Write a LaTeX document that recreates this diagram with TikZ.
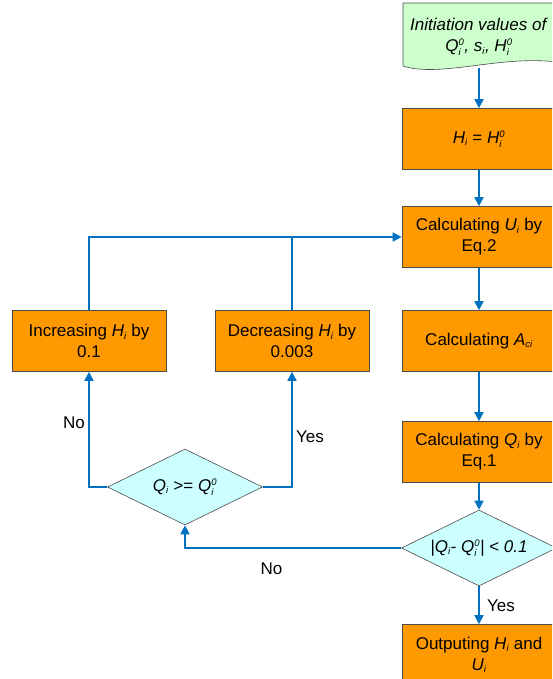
\documentclass[tikz,border=0pt]{standalone}
\usepackage{fontspec}
\setmainfont{Liberation Sans}
\usetikzlibrary{shapes.geometric,arrows.meta}

\definecolor{boxorange}{RGB}{255,153,0}
\definecolor{testcyan}{RGB}{204,255,255}
\definecolor{docgreen}{RGB}{204,255,204}
\definecolor{flowblue}{RGB}{0,112,192}

\newcommand{\idxtxt}[1]{\hbox{\fontsize{9.5}{10}\selectfont\itshape #1}}
\newcommand{\vsub}[2]{\textit{#1}$_{\idxtxt{#2}}$}
\newcommand{\vsubo}[2]{\textit{#1}$^{\idxtxt{0}}_{\idxtxt{#2}}$}

\begin{document}
\begin{tikzpicture}[x=1pt,y=-1pt]
		\tikzstyle {box} = [draw=black!70, fill=boxorange, line width=0.6pt, minimum width=154pt, minimum height=61pt, inner sep=2pt, align=center, font=\fontsize{17}{21}\selectfont]
		\tikzstyle {test} = [diamond, draw=black!70, fill=testcyan, line width=0.6pt, minimum width=155pt, minimum height=76pt, inner sep=0pt, aspect=2, align=center, font=\fontsize{17}{21}\selectfont]
		\tikzstyle {flow} = [draw=flowblue, line width=1.6pt, -{Triangle[width=9pt,length=9pt]}]
		\tikzstyle {link} = [draw=flowblue, line width=1.6pt]
		\tikzstyle {lbl} = [font=\fontsize{17}{21}\selectfont]

		\useasboundingbox (0,0) rectangle (552,679);
		\clip (0,0) rectangle (552,679);

		% start values
		\draw[draw=black!70, fill=docgreen, line width=0.6pt] (403,3) -- (557,3) -- (557,62) .. controls (500,55) and (440,78) .. (403,66) -- cycle;
		\node[font=\fontsize{17}{21}\selectfont, align=center] (init) at (479,37) {\textit{Initiation values of}\\\vsubo{Q}{i}\textit{, }\vsub{s}{i}\textit{, }\vsubo{H}{i}};
		\coordinate (initb) at (479,68);

		% main column
		\node[box] (hset) at (479,139) {\vsub{H}{i} = \vsubo{H}{i}};
		\node[box] (calcu) at (479,237) {Calculating \vsub{U}{i} by\\Eq.2};
		\node[box] (calca) at (479,341) {Calculating \vsub{A}{ci}};
		\node[box] (calcq) at (479,452) {Calculating \vsub{Q}{i} by\\Eq.1};
		\node[test] (check) at (479,548) {\textit{|}\vsub{Q}{i}\textit{- }\vsubo{Q}{i}\textit{| {\textless} 0.1}};
		\node[box] (output) at (479,655) {Outputing \vsub{H}{i} and\\\vsub{U}{i}};

		% correction loop
		\node[test] (comp) at (185,487) {\vsub{Q}{i} {\textgreater}= \vsubo{Q}{i}};
		\node[box] (inc) at (89,341) {Increasing \vsub{H}{i} by\\0.1};
		\node[box] (dec) at (292,341) {Decreasing \vsub{H}{i} by\\0.003};

		\draw[flow] (initb) -- (hset);
		\draw[flow] (hset) -- (calcu);
		\draw[flow] (calcu) -- (calca);
		\draw[flow] (calca) -- (calcq);
		\draw[flow] (calcq) -- (check);
		\draw[flow] (check) -- node[lbl, right=4pt] (yesb) {Yes} (output);
		\draw[flow] (check.west) -| node[lbl, pos=0.3, below=11pt] (nob) {No} (comp.south);
		\draw[flow] (comp.west) -| node[lbl, pos=0.78, left] (noc) {No} (inc.south);
		\draw[flow] (comp.east) -| node[lbl, pos=0.72, right] (yesc) {Yes} (dec.south);
		\draw[flow] (inc.north) |- (calcu.west);
		\draw[link] (dec.north) -- (dec.north |- calcu.west);
\end{tikzpicture}
\end{document}
